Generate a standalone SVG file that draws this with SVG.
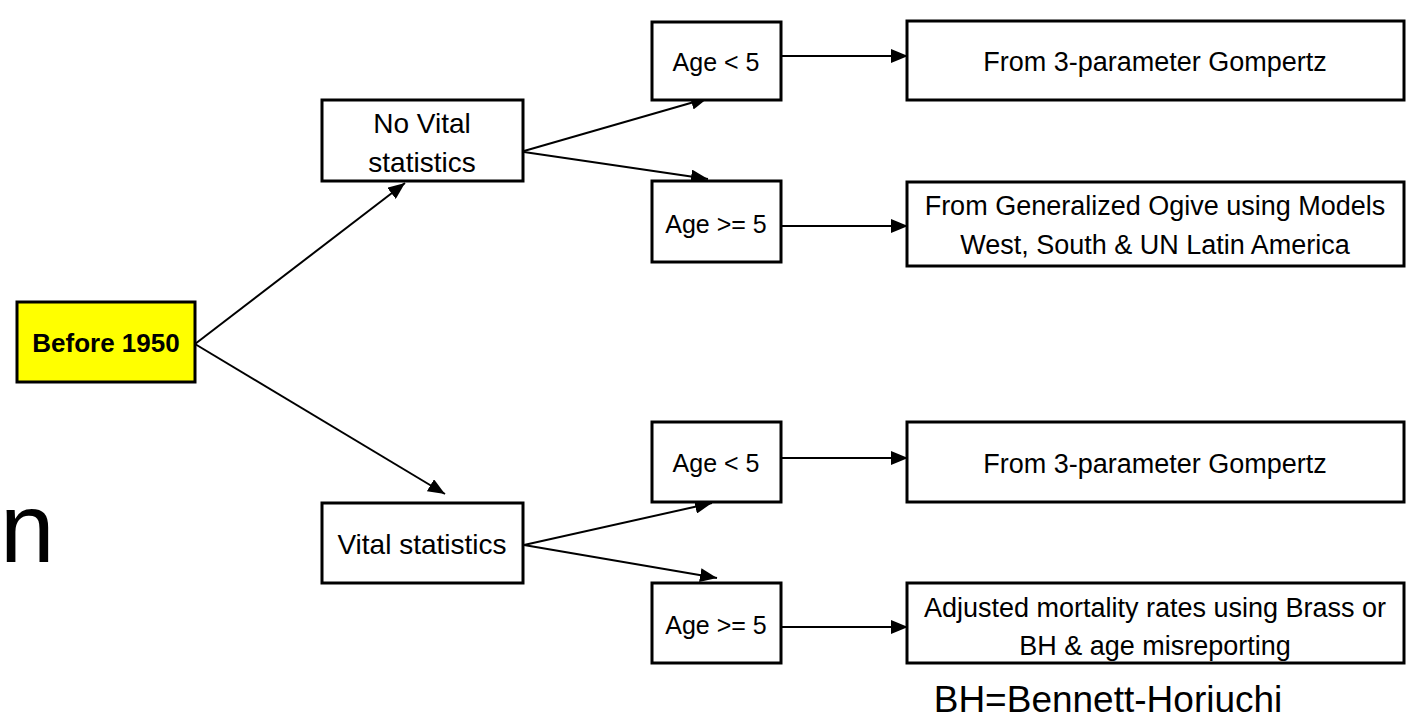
<svg xmlns="http://www.w3.org/2000/svg" width="1428" height="720" viewBox="0 0 1428 720">
<style>
  .box { fill: #ffffff; stroke: #000000; stroke-width: 3; }
  .hl { fill: #ffff00; stroke: #000000; stroke-width: 3; }
  .t { font-family: "Liberation Sans", Arial, sans-serif; fill: #000000; text-anchor: middle; }
  .conn line { stroke: #000000; stroke-width: 2; marker-end: url(#ah); }
</style>
<defs>
  <marker id="ah" viewBox="0 0 17 14" refX="17" refY="7" markerWidth="17" markerHeight="14" markerUnits="userSpaceOnUse" orient="auto">
    <path d="M0,0 L17,7 L0,14 Z" fill="#000000"/>
  </marker>
</defs>
<rect width="1428" height="720" fill="#ffffff"/>

<text class="t" x="0" y="562" font-size="98" style="text-anchor:start">n</text>

<g class="conn">
  <line x1="195" y1="344" x2="405" y2="183"/>
  <line x1="195" y1="344" x2="445" y2="494"/>
  <line x1="524" y1="151" x2="708" y2="98"/>
  <line x1="524" y1="152" x2="708" y2="179"/>
  <line x1="524" y1="545" x2="712" y2="503"/>
  <line x1="524" y1="545" x2="717" y2="578"/>
  <line x1="777" y1="56" x2="908" y2="56"/>
  <line x1="777" y1="226" x2="908" y2="226"/>
  <line x1="777" y1="458" x2="908" y2="458"/>
  <line x1="777" y1="627" x2="908" y2="627"/>
</g>

<g id="before1950">
  <rect class="hl" x="17" y="302" width="178" height="80"/>
  <text class="t" x="106" y="352" font-size="26" font-weight="bold">Before 1950</text>
</g>

<g id="novital">
  <rect class="box" x="322" y="100" width="201" height="81"/>
  <text class="t" x="422" y="133" font-size="28">No Vital</text>
  <text class="t" x="422" y="172" font-size="28">statistics</text>
</g>

<g id="vital">
  <rect class="box" x="322" y="503" width="201" height="80"/>
  <text class="t" x="422" y="554" font-size="28">Vital statistics</text>
</g>

<g id="age-lt5-a">
  <rect class="box" x="652" y="22" width="129" height="78"/>
  <text class="t" x="716" y="71" font-size="25">Age &lt; 5</text>
</g>

<g id="age-ge5-a">
  <rect class="box" x="652" y="181" width="129" height="81"/>
  <text class="t" x="716" y="233" font-size="25">Age &gt;= 5</text>
</g>

<g id="age-lt5-b">
  <rect class="box" x="652" y="422" width="129" height="80"/>
  <text class="t" x="716" y="472" font-size="25">Age &lt; 5</text>
</g>

<g id="age-ge5-b">
  <rect class="box" x="652" y="583" width="129" height="80"/>
  <text class="t" x="716" y="634" font-size="25">Age &gt;= 5</text>
</g>

<g id="gompertz-a">
  <rect class="box" x="907" y="21" width="497" height="79"/>
  <text class="t" x="1155" y="71" font-size="27">From 3-parameter Gompertz</text>
</g>

<g id="ogive">
  <rect class="box" x="907" y="182" width="497" height="84"/>
  <text class="t" x="1155" y="215" font-size="27">From Generalized Ogive using Models</text>
  <text class="t" x="1155" y="254" font-size="27">West, South &amp; UN Latin America</text>
</g>

<g id="gompertz-b">
  <rect class="box" x="907" y="422" width="497" height="80"/>
  <text class="t" x="1155" y="473" font-size="27">From 3-parameter Gompertz</text>
</g>

<g id="adjusted">
  <rect class="box" x="907" y="583" width="497" height="80"/>
  <text class="t" x="1155" y="617" font-size="27">Adjusted mortality rates using Brass or</text>
  <text class="t" x="1155" y="655" font-size="27">BH &amp; age misreporting</text>
</g>

<text class="t" x="1108" y="712" font-size="37">BH=Bennett-Horiuchi</text>
</svg>
